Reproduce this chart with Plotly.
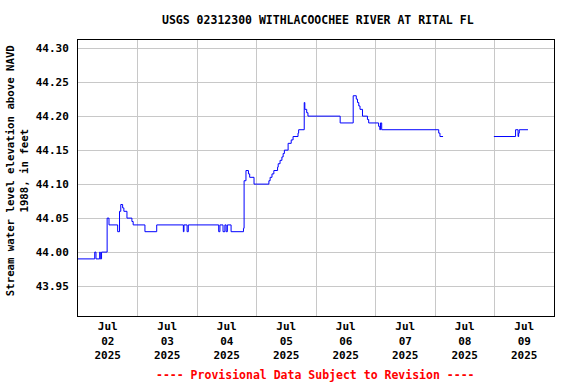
import plotly.graph_objects as go

# Gage readings (step changes), 15-minute timestamps
seg1_times = [
    "2025-07-02 00:00", "2025-07-02 06:45", "2025-07-02 07:15", "2025-07-02 08:45",
    "2025-07-02 09:00", "2025-07-02 09:30", "2025-07-02 11:45", "2025-07-02 12:30",
    "2025-07-02 16:00", "2025-07-02 16:45", "2025-07-02 17:15", "2025-07-02 18:00",
    "2025-07-02 18:30", "2025-07-02 19:45", "2025-07-02 21:45", "2025-07-02 22:15",
    "2025-07-03 03:00", "2025-07-03 07:45", "2025-07-03 18:30", "2025-07-03 18:45",
    "2025-07-03 20:00", "2025-07-03 20:30", "2025-07-04 08:45", "2025-07-04 09:15",
    "2025-07-04 10:30", "2025-07-04 11:15", "2025-07-04 11:45", "2025-07-04 12:15",
    "2025-07-04 13:45", "2025-07-04 18:45", "2025-07-04 19:00", "2025-07-04 19:45",
    "2025-07-04 20:45", "2025-07-04 21:15", "2025-07-04 23:00", "2025-07-05 05:00",
    "2025-07-05 05:30", "2025-07-05 06:15", "2025-07-05 07:00", "2025-07-05 08:30",
    "2025-07-05 08:45", "2025-07-05 09:30", "2025-07-05 10:15", "2025-07-05 10:45",
    "2025-07-05 11:15", "2025-07-05 12:45", "2025-07-05 14:00", "2025-07-05 14:45",
    "2025-07-05 16:45", "2025-07-05 17:00", "2025-07-05 19:15", "2025-07-05 19:30",
    "2025-07-05 20:15", "2025-07-05 20:45", "2025-07-06 09:45", "2025-07-06 15:00",
    "2025-07-06 16:15", "2025-07-06 16:45", "2025-07-06 17:15", "2025-07-06 17:45",
    "2025-07-06 18:45", "2025-07-06 20:45", "2025-07-06 21:15", "2025-07-07 01:15",
    "2025-07-07 01:45", "2025-07-07 02:00", "2025-07-07 02:30", "2025-07-08 01:30",
    "2025-07-08 02:00", "2025-07-08 03:15",
]
seg1_values = [
    43.99, 44.00, 43.99, 44.00,
    43.99, 44.00, 44.05, 44.04,
    44.03, 44.06, 44.07, 44.065,
    44.06, 44.05, 44.045, 44.04,
    44.03, 44.04, 44.03, 44.04,
    44.03, 44.04, 44.03, 44.04,
    44.03, 44.04, 44.03, 44.04,
    44.03, 44.035, 44.105, 44.12,
    44.115, 44.11, 44.10, 44.105,
    44.11, 44.115, 44.12, 44.125,
    44.13, 44.135, 44.14, 44.145,
    44.15, 44.16, 44.165, 44.17,
    44.175, 44.18, 44.22, 44.21,
    44.205, 44.20, 44.19, 44.23,
    44.225, 44.22, 44.215, 44.21,
    44.20, 44.195, 44.19, 44.185,
    44.18, 44.19, 44.18, 44.175,
    44.17, 44.17,
]
seg2_times = [
    "2025-07-08 23:45", "2025-07-09 08:30", "2025-07-09 09:30", "2025-07-09 09:45",
    "2025-07-09 10:00", "2025-07-09 13:30",
]
seg2_values = [44.17, 44.18, 44.17, 44.175, 44.18, 44.18]

x_vals = seg1_times + [None] + seg2_times
y_vals = seg1_values + [None] + seg2_values

title_text = "USGS 02312300 WITHLACOOCHEE RIVER AT RITAL FL"
ytitle_text = "Stream water level elevation above NAVD<br>1988, in feet"
footer_text = "---- Provisional Data Subject to Revision ----"

FONT = "DejaVu Sans Mono"

fig = go.Figure()
fig.add_trace(go.Scatter(
    x=x_vals, y=y_vals, mode="lines",
    line=dict(color="#0000ff", width=1.0, shape="hv"),
    connectgaps=False, showlegend=False,
))

fig.update_layout(
    width=576, height=384,
    margin=dict(l=78, r=22, t=40, b=68),
    paper_bgcolor="white", plot_bgcolor="white",
    font=dict(family=FONT, size=11, color="black"),
    annotations=[
        dict(text="<b>" + title_text + "</b>", xref="paper", yref="paper",
             x=0.504, y=1.072, xanchor="center", yanchor="middle", showarrow=False,
             font=dict(family=FONT, size=11.5, color="black")),
        dict(text="<b>" + ytitle_text + "</b>", xref="paper", yref="paper",
             x=-0.128, y=0.525, xanchor="center", yanchor="middle", showarrow=False,
             textangle=-90, font=dict(family=FONT, size=10.7, color="black")),
        dict(text="<b>" + footer_text + "</b>", xref="paper", yref="paper",
             x=0.498, y=-0.214, xanchor="center", yanchor="middle", showarrow=False,
             font=dict(family=FONT, size=11.5, color="red")),
    ],
)

fig.update_xaxes(
    type="date",
    range=["2025-07-02 00:00", "2025-07-10 00:00"],
    dtick=86400000, tick0="2025-07-02",
    ticklabelmode="period",
    tickformat="<b>%b</b><br><b>%d</b><br><b>%Y</b>",
    showgrid=True, gridcolor="#c8c8c8", gridwidth=1,
    showline=True, linecolor="black", linewidth=1, mirror=True,
    ticks="", zeroline=False,
    tickfont=dict(family=FONT, size=11, color="black"),
)
fig.update_yaxes(
    range=[43.906, 44.312],
    dtick=0.05, tick0=43.95, tickformat=".2f",
    showgrid=True, gridcolor="#c8c8c8", gridwidth=1,
    showline=True, linecolor="black", linewidth=1, mirror=True,
    ticks="", zeroline=False, ticklabelstandoff=6,
    tickfont=dict(family=FONT, size=11, color="black"),
    tickprefix="<b>", ticksuffix="</b>",
)

fig.write_html("out.html", config={"displayModeBar": False},
               post_script="document.body.style.margin='0px';")
